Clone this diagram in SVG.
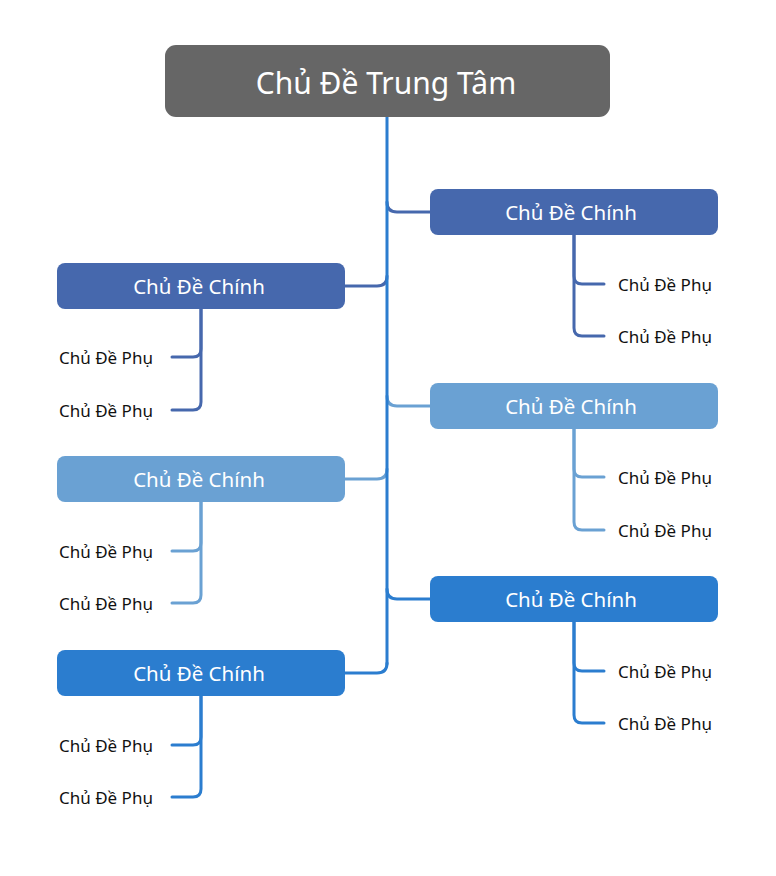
<svg xmlns="http://www.w3.org/2000/svg" width="776" height="876" viewBox="0 0 776 876">
<style>
.c{fill:none;stroke-width:3;stroke-linecap:round;stroke-linejoin:round}
.dk{stroke:#4668ad}.lt{stroke:#6aa1d3}.bl{stroke:#2b7dcf}
.t{font-family:"Noto Sans","Open Sans",sans-serif;text-anchor:middle;dominant-baseline:central}
.main{fill:#fff;font-size:20.5px}
.sub{fill:#111;font-size:17px;text-anchor:start}
</style>
<rect width="776" height="876" fill="#fff"/>
<g id="connectors">
<path class="c dk" d="M387 202 Q387 212 397 212 H430"/>
<path class="c dk" d="M345 286 H377 Q387 286 387 276"/>
<path class="c lt" d="M387 396 Q387 406 397 406 H430"/>
<path class="c lt" d="M345 479 H377 Q387 479 387 469"/>
<path class="c bl" d="M387 589 Q387 599 397 599 H430"/>
<path class="c bl" d="M345 673 H377 Q387 673 387 663"/>
<path class="c bl" d="M387 117 V664"/>
<path class="c dk" d="M574 235 V276 Q574 284 582 284 H604"/>
<path class="c dk" d="M574 235 V328 Q574 336 582 336 H604"/>
<path class="c lt" d="M574 429 V469 Q574 477 582 477 H604"/>
<path class="c lt" d="M574 429 V522 Q574 530 582 530 H604"/>
<path class="c bl" d="M574 622 V663 Q574 671 582 671 H604"/>
<path class="c bl" d="M574 622 V715 Q574 723 582 723 H604"/>
<path class="c dk" d="M201 309 V349 Q201 357 193 357 H172"/>
<path class="c dk" d="M201 309 V402 Q201 410 193 410 H172"/>
<path class="c lt" d="M201 502 V543 Q201 551 193 551 H172"/>
<path class="c lt" d="M201 502 V595 Q201 603 193 603 H172"/>
<path class="c bl" d="M201 696 V737 Q201 745 193 745 H172"/>
<path class="c bl" d="M201 696 V789 Q201 797 193 797 H172"/>
</g>
<g id="center">
<rect x="165" y="45" width="445" height="72" rx="11" fill="#666"/>
<text class="t" x="386" y="82" fill="#fff" font-size="30">Chủ Đề Trung Tâm</text>
</g>
<g id="main-r1"><rect x="430" y="189" width="288" height="46" rx="8" fill="#4668ad"/><text class="t main" x="571" y="212">Chủ Đề Chính</text></g>
<g id="main-l1"><rect x="57" y="263" width="288" height="46" rx="8" fill="#4668ad"/><text class="t main" x="199" y="286">Chủ Đề Chính</text></g>
<g id="main-r2"><rect x="430" y="383" width="288" height="46" rx="8" fill="#6aa1d3"/><text class="t main" x="571" y="406">Chủ Đề Chính</text></g>
<g id="main-l2"><rect x="57" y="456" width="288" height="46" rx="8" fill="#6aa1d3"/><text class="t main" x="199" y="479">Chủ Đề Chính</text></g>
<g id="main-r3"><rect x="430" y="576" width="288" height="46" rx="8" fill="#2b7dcf"/><text class="t main" x="571" y="599">Chủ Đề Chính</text></g>
<g id="main-l3"><rect x="57" y="650" width="288" height="46" rx="8" fill="#2b7dcf"/><text class="t main" x="199" y="673">Chủ Đề Chính</text></g>
<g id="sub-r1a"><text class="t sub" x="618" y="284">Chủ Đề Phụ</text></g>
<g id="sub-r1b"><text class="t sub" x="618" y="336">Chủ Đề Phụ</text></g>
<g id="sub-r2a"><text class="t sub" x="618" y="477">Chủ Đề Phụ</text></g>
<g id="sub-r2b"><text class="t sub" x="618" y="530">Chủ Đề Phụ</text></g>
<g id="sub-r3a"><text class="t sub" x="618" y="671">Chủ Đề Phụ</text></g>
<g id="sub-r3b"><text class="t sub" x="618" y="723">Chủ Đề Phụ</text></g>
<g id="sub-l1a"><text class="t sub" x="59" y="357">Chủ Đề Phụ</text></g>
<g id="sub-l1b"><text class="t sub" x="59" y="410">Chủ Đề Phụ</text></g>
<g id="sub-l2a"><text class="t sub" x="59" y="551">Chủ Đề Phụ</text></g>
<g id="sub-l2b"><text class="t sub" x="59" y="603">Chủ Đề Phụ</text></g>
<g id="sub-l3a"><text class="t sub" x="59" y="745">Chủ Đề Phụ</text></g>
<g id="sub-l3b"><text class="t sub" x="59" y="797">Chủ Đề Phụ</text></g>
</svg>
